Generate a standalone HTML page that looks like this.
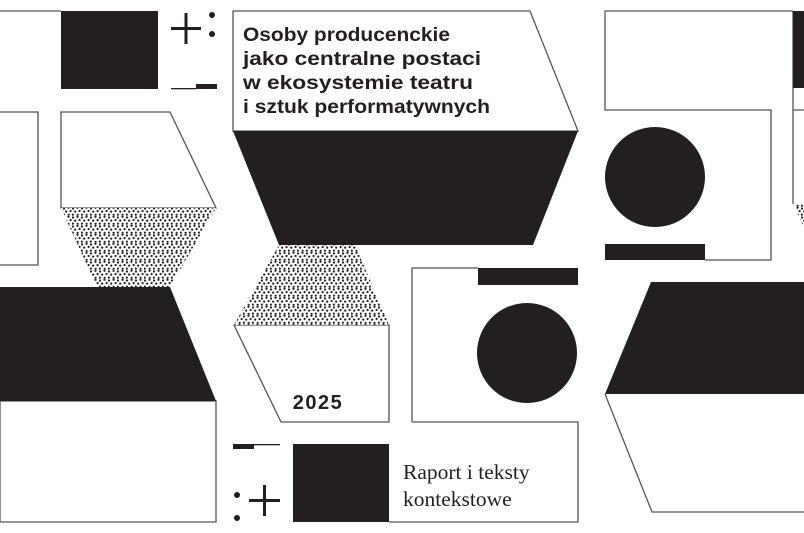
<!DOCTYPE html>
<html><head><meta charset="utf-8"><style>
html,body{margin:0;padding:0;background:#fff;width:804px;height:533px;overflow:hidden}
svg{display:block}
</style></head><body>
<svg width="804" height="533" viewBox="0 0 804 533" xmlns="http://www.w3.org/2000/svg">
<defs>
<pattern id="dots" width="9" height="9" patternUnits="userSpaceOnUse">
<rect width="9" height="9" fill="#fff"/>
<circle cx="1" cy="1.5" r="1.1" fill="#231f20"/>
<circle cx="5.5" cy="0.8" r="1.1" fill="#231f20"/>
<circle cx="3.2" cy="4.6" r="1.1" fill="#231f20"/>
<circle cx="7.6" cy="4" r="1.1" fill="#231f20"/>
<circle cx="0.8" cy="7.6" r="1.1" fill="#231f20"/>
<circle cx="5.6" cy="7.8" r="1.1" fill="#231f20"/>
</pattern>
</defs>
<g fill="none" stroke="#555" stroke-width="1.3">
<line x1="0" y1="11" x2="61" y2="11"/>
<polyline points="0,112 38,112 38,265 0,265"/>
<polygon points="61,112 170,112 216,208 61,208"/>
<polygon points="0,401 216,401 216,522 0,522"/>
<polygon points="233,11 530,11 578,131 233,131"/>
<polygon points="234,325 389,325 389,422 281,422"/>
<polyline points="412,422 412,268 478,268"/>
<polyline points="412,422 578,422 578,522 389,522"/>
<polyline points="793,11 605,11 605,110 771,110 771,260 705,260"/>
<line x1="793" y1="11" x2="793" y2="110"/>
<polyline points="804,110 793,110 793,204"/>
<polyline points="605,394 652,512 804,512"/>
</g>
<g fill="#231f20">
<rect x="61" y="11" width="97" height="78"/>
<rect x="171" y="27" width="30" height="3"/>
<rect x="184.5" y="13" width="3" height="31"/>
<circle cx="212" cy="15" r="3"/>
<circle cx="212" cy="34" r="3"/>
<rect x="171" y="88" width="25" height="1.3"/>
<rect x="196" y="84" width="21" height="5"/>
<polygon points="61,208 216,208 170,287 97,287" fill="url(#dots)"/>
<polygon points="0,287 170,287 216,401 0,401"/>
<polygon points="233,131 578,131 533,245 279,245"/>
<polygon points="279,245 355,245 389,325 234,325" fill="url(#dots)"/>
<rect x="478" y="268" width="100" height="17"/>
<circle cx="527" cy="353" r="50"/>
<rect x="293" y="444" width="96" height="78"/>
<rect x="233" y="444" width="21" height="5"/>
<rect x="254" y="444" width="26" height="1.3"/>
<circle cx="237" cy="495" r="3"/>
<circle cx="237" cy="518" r="3"/>
<rect x="249" y="499" width="31" height="3"/>
<rect x="263" y="485" width="3" height="31"/>
<rect x="793" y="11" width="11" height="77"/>
<circle cx="655" cy="177" r="50"/>
<rect x="605" y="244" width="100" height="16"/>
<polygon points="793,204 804,204 804,228" fill="url(#dots)"/>
<polygon points="651,282 804,282 804,394 605,394"/>
</g>
<g font-family="Liberation Sans, sans-serif" font-weight="bold" font-size="19.5" fill="#231f20">
<text x="243" y="41" textLength="207" lengthAdjust="spacingAndGlyphs">Osoby producenckie</text>
<text x="243" y="65" textLength="238" lengthAdjust="spacingAndGlyphs">jako centralne postaci</text>
<text x="243" y="89" textLength="230" lengthAdjust="spacingAndGlyphs">w ekosystemie teatru</text>
<text x="243" y="113" textLength="247" lengthAdjust="spacingAndGlyphs">i sztuk performatywnych</text>
</g>
<text x="318" y="409" text-anchor="middle" font-family="Liberation Sans Narrow, Liberation Sans, sans-serif" font-weight="bold" font-size="20" letter-spacing="1.5" fill="#231f20">2025</text>
<g font-family="Liberation Serif, serif" font-size="21.5" fill="#231f20">
<text x="403" y="479">Raport i teksty</text>
<text x="403" y="506">kontekstowe</text>
</g>
</svg>
</body></html>
